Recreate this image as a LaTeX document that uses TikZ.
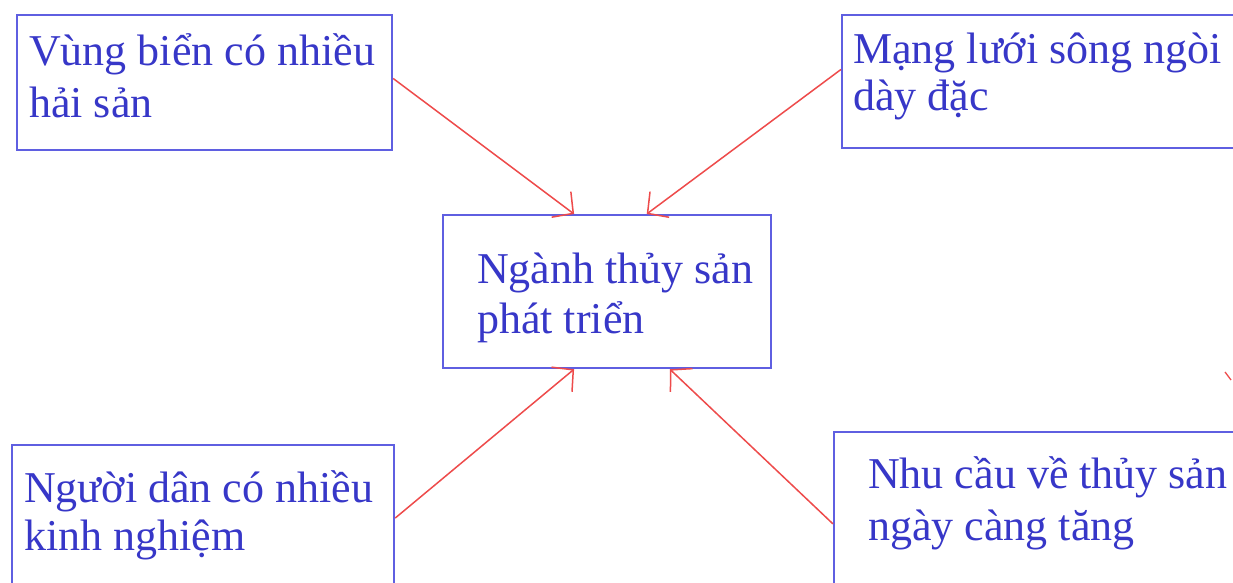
\documentclass[tikz,border=0pt]{standalone}
\usepackage{fontspec}
\setmainfont{Liberation Serif}
\usetikzlibrary{arrows.meta,calc}
\definecolor{boxblue}{RGB}{95,95,225}
\definecolor{txtblue}{RGB}{55,55,200}
\definecolor{arrred}{RGB}{238,75,75}
\begin{document}
\begin{tikzpicture}[x=1pt,y=-1pt,
  box/.style={draw=boxblue,line width=2.2pt,anchor=north west,inner sep=0pt,minimum width=#1},
  lbl/.style={text=txtblue,anchor=base west,align=left,inner sep=0pt,font=\fontsize{44}{50}\selectfont},
  conn/.style={draw=arrred,line width=1.5pt,-{Straight Barb[length=15pt,width=32pt,line width=1.5pt]}}]
\useasboundingbox[fill=white] (0,0) rectangle (1233,582);
\begin{scope}
\clip (0,0) rectangle (1233,582);
\node[box=375pt,minimum height=135pt] (b1) at (16,14) {};
\node[box=420pt,minimum height=133pt] (b2) at (841,14) {};
\node[box=328pt,minimum height=153pt] (c) at (442,214) {};
\node[box=382pt,minimum height=170pt] (b3) at (11,444) {};
\node[box=420pt,minimum height=180pt] (b4) at (833,431) {};
\end{scope}
\node[lbl,font=\fontsize{44}{52}\selectfont] (t1) at (29,117) {Vùng biển có nhiều\\hải sản};
\node[lbl,font=\fontsize{44}{47}\selectfont] (t2) at (853,110) {Mạng lưới sông ngòi\\dày đặc};
\node[lbl,font=\fontsize{44}{50}\selectfont] (tc) at (477,333) {Ngành thủy sản\\phát triển};
\node[lbl,font=\fontsize{44}{48}\selectfont] (t3) at (24,550) {Người dân có nhiều\\kinh nghiệm};
\node[lbl,font=\fontsize{44}{52}\selectfont] (t4) at (868,540) {Nhu cầu về thủy sản\\ngày càng tăng};
\draw[conn] ($(b1.north east)!0.47!(b1.south east)$) -- ($(c.north west)!0.40!(c.north east)$);
\draw[conn] ($(b2.north west)!0.41!(b2.south west)$) -- ($(c.north west)!0.62!(c.north east)$);
\draw[conn] ($(b3.north east)!0.43!(b3.south east)$) -- ($(c.south west)!0.40!(c.south east)$);
\draw[conn] ($(b4.north west)!0.51!(b4.south west)$) -- ($(c.south west)!0.69!(c.south east)$);
\coordinate (s1) at (1225,372);
\coordinate (s2) at (1231,380);
\draw[arrred,line width=1.3pt] (s1) -- (s2);
\end{tikzpicture}
\end{document}
